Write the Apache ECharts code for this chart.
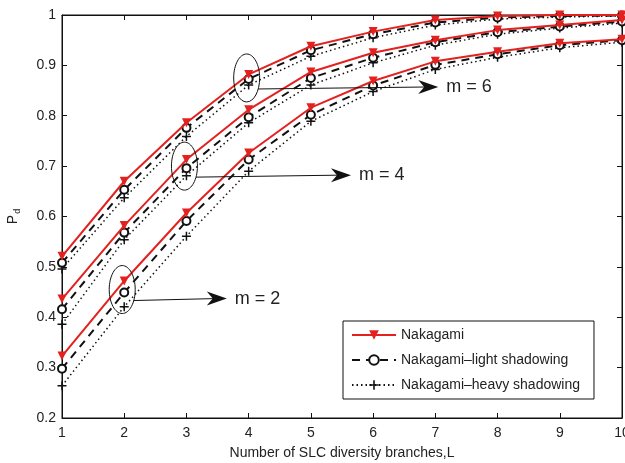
<!DOCTYPE html>
<html>
<head>
<meta charset="utf-8">
<script src="https://cdn.jsdelivr.net/npm/echarts@6/dist/echarts.min.js"></script>
<style>
  html, body { margin: 0; padding: 0; background: #fff; }
  #main { width: 625px; height: 463px; }
</style>
</head>
<body>
<div id="main"></div>
<script>
// 分集支路数 L
var branches = [1, 2, 3, 4, 5, 6, 7, 8, 9, 10]
var yTicks = [0.2, 0.3, 0.4, 0.5, 0.6, 0.7, 0.8, 0.9, 1]

// m = 6
var naka_m6  = [0.521, 0.670, 0.786, 0.882, 0.938, 0.967, 0.990, 0.998, 1.000, 1.000]
var light_m6 = [0.508, 0.653, 0.776, 0.873, 0.930, 0.962, 0.985, 0.995, 0.998, 0.999]
var heavy_m6 = [0.496, 0.637, 0.759, 0.861, 0.918, 0.955, 0.980, 0.992, 0.996, 0.998]
// m = 4
var naka_m4  = [0.436, 0.582, 0.713, 0.812, 0.887, 0.925, 0.950, 0.970, 0.980, 0.990]
var light_m4 = [0.416, 0.568, 0.696, 0.797, 0.875, 0.915, 0.946, 0.966, 0.977, 0.987]
var heavy_m4 = [0.386, 0.554, 0.681, 0.786, 0.861, 0.905, 0.940, 0.962, 0.974, 0.984]
// m = 2
var naka_m2  = [0.323, 0.472, 0.607, 0.726, 0.816, 0.869, 0.908, 0.927, 0.944, 0.952]
var light_m2 = [0.298, 0.449, 0.591, 0.713, 0.802, 0.860, 0.901, 0.922, 0.940, 0.950]
var heavy_m2 = [0.264, 0.421, 0.561, 0.690, 0.789, 0.848, 0.892, 0.916, 0.935, 0.946]

var legendNames = ['Nakagami', 'Nakagami\u2013light shadowing', 'Nakagami\u2013heavy shadowing']
// 注释: 椭圆所圈的点和标签
var notes = [
  { L: 4, p: 0.875, text: 'm = 6', len: 180 },
  { L: 3, p: 0.700, text: 'm = 4', len: 155 },
  { L: 2, p: 0.455, text: 'm = 2', len: 93 }
]

var RED = '#e3211f'
var FONT = '"Liberation Sans", Arial, sans-serif'
var plus = 'path://M4,0h1.6v4h4v1.6h-4v4h-1.6v-4h-4v-1.6h4z'

function pairs(arr) {
  return arr.map(function (v, i) { return [branches[i], v] })
}

function makeSeries(kind, arr) {
  var s = { type: 'line', data: pairs(arr), animation: false, silent: true, showAllSymbol: true }
  if (kind === 0) {
    s.name = legendNames[0]
    s.z = 4
    s.symbol = 'triangle'
    s.symbolRotate = 180
    s.symbolSize = 9
    s.itemStyle = { color: RED }
    s.lineStyle = { color: RED, width: 2 }
  } else if (kind === 1) {
    s.name = legendNames[1]
    s.z = 3
    s.symbol = 'emptyCircle'
    s.symbolSize = 8
    s.itemStyle = { color: '#111', borderColor: '#111', borderWidth: 1.8 }
    s.lineStyle = { color: '#111', width: 2, type: [8, 6] }
  } else {
    s.name = legendNames[2]
    s.z = 2
    s.symbol = plus
    s.symbolSize = 9
    s.itemStyle = { color: '#111' }
    s.lineStyle = { color: '#111', width: 1.5, type: [1.5, 3] }
  }
  return s
}

var axisLabel = { color: '#222', fontSize: 14, fontFamily: FONT }
var myChart = echarts.init(document.getElementById('main'))

myChart.setOption({
  backgroundColor: '#fff',
  grid: {
    left: 62, right: 3, top: 15, bottom: 45,
    outerBoundsMode: 'none',
    show: true, borderColor: '#111', borderWidth: 1, backgroundColor: 'transparent'
  },
  legend: {
    data: legendNames,
    orient: 'vertical',
    left: 343, top: 321,
    padding: [7, 14, 7, 8],
    itemWidth: 44, itemHeight: 12, itemGap: 11,
    backgroundColor: '#fff',
    borderColor: '#111', borderWidth: 1, borderRadius: 0,
    textStyle: { color: '#222', fontSize: 14, fontFamily: FONT },
    selectedMode: false
  },
  xAxis: [{
    type: 'value', min: 1, max: 10, interval: 1,
    name: 'Number of SLC diversity branches,L',
    nameLocation: 'middle', nameGap: 28,
    nameTextStyle: { color: '#222', fontSize: 14, fontFamily: FONT },
    axisLine: { show: true, lineStyle: { color: '#111' } },
    axisTick: { inside: true, length: 5, lineStyle: { color: '#111' } },
    axisLabel: axisLabel,
    splitLine: { show: false }
  }, {
    type: 'value', min: 1, max: 10, interval: 1, position: 'top',
    axisLine: { show: true, lineStyle: { color: '#111' } },
    axisTick: { inside: true, length: 5, lineStyle: { color: '#111' } },
    axisLabel: { show: false }, splitLine: { show: false }
  }],
  yAxis: [{
    type: 'value', min: yTicks[0], max: yTicks[yTicks.length - 1], interval: 0.1,
    name: '{p|P}{d|d}',
    nameLocation: 'middle', nameGap: 40, nameRotate: 90,
    nameTextStyle: {
      rich: {
        p: { color: '#222', fontSize: 14, fontFamily: FONT },
        d: { color: '#222', fontSize: 9, fontFamily: FONT, padding: [8, 0, 0, 1] }
      }
    },
    axisLine: { show: true, lineStyle: { color: '#111' } },
    axisTick: { inside: true, length: 5, lineStyle: { color: '#111' } },
    axisLabel: Object.assign({ margin: 6, formatter: function (v) { return +v.toFixed(1) + '' } }, axisLabel),
    splitLine: { show: false }
  }, {
    type: 'value', min: yTicks[0], max: yTicks[yTicks.length - 1], interval: 0.1, position: 'right',
    axisLine: { show: true, lineStyle: { color: '#111' } },
    axisTick: { inside: true, length: 5, lineStyle: { color: '#111' } },
    axisLabel: { show: false }, splitLine: { show: false }
  }],
  series: [
    makeSeries(0, naka_m6), makeSeries(1, light_m6), makeSeries(2, heavy_m6),
    makeSeries(0, naka_m4), makeSeries(1, light_m4), makeSeries(2, heavy_m4),
    makeSeries(0, naka_m2), makeSeries(1, light_m2), makeSeries(2, heavy_m2)
  ]
})

// 椭圆 + 箭头 + 文字
var graphics = []
notes.forEach(function (n) {
  var c = myChart.convertToPixel({ xAxisIndex: 0, yAxisIndex: 0 }, [n.L, n.p])
  var cx = c[0] - 2, cy = c[1]
  var rx = 13, ry = 24
  var y0 = cy + 11
  var x0 = cx + rx * Math.sqrt(1 - (11 * 11) / (ry * ry))
  var tip = x0 + n.len
  graphics.push({
    type: 'ellipse', z: 10,
    shape: { cx: cx, cy: cy, rx: rx, ry: ry },
    style: { fill: null, stroke: '#111', lineWidth: 1 }
  })
  graphics.push({
    type: 'line', z: 10,
    shape: { x1: x0, y1: y0, x2: tip - 10, y2: y0 - 2 },
    style: { stroke: '#111', lineWidth: 1 }
  })
  graphics.push({
    type: 'polygon', z: 10,
    shape: { points: [[tip, y0 - 2], [tip - 20, y0 - 9], [tip - 14, y0 - 2], [tip - 20, y0 + 5]] },
    style: { fill: '#111' }
  })
  graphics.push({
    type: 'text', z: 10,
    x: tip + 8, y: y0 - 2,
    style: { text: n.text, fill: '#222', font: '18px ' + FONT, verticalAlign: 'middle' }
  })
})
myChart.setOption({ graphic: graphics })
</script>
</body>
</html>
